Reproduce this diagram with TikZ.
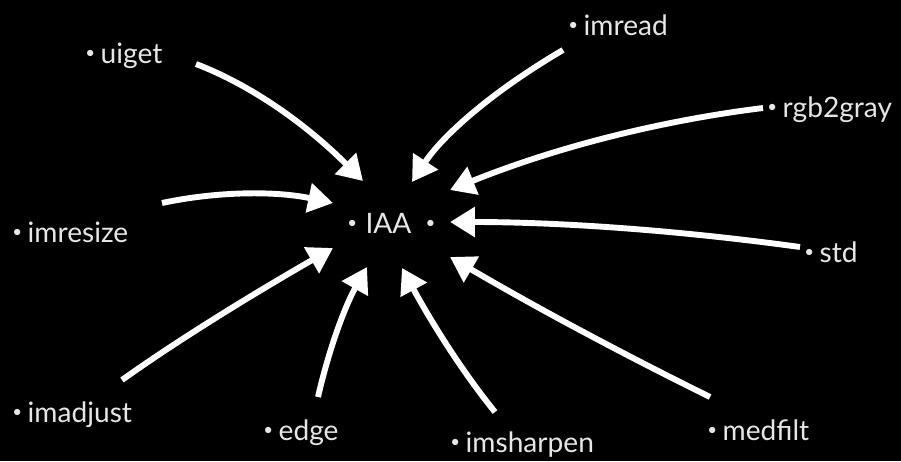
\documentclass[tikz,border=0pt]{standalone}
\usepackage{fontspec}
\setmainfont{Lato}
\usepackage{tikz}
\usetikzlibrary{arrows.meta}
\usepackage{xcolor}
\definecolor{labelGray}{HTML}{E6E6E6}
\newcommand{\dotMark}{\raisebox{0.32ex}{\fontsize{12}{12}\selectfont •}}

\begin{document}
\begin{tikzpicture}[
    x=0.025cm, y=-0.025cm,
    labelStyle/.style={anchor=base west, inner sep=0pt, text=labelGray, font=\fontsize{20}{24}\selectfont},
    arrowStyle/.style={-{Triangle[length=0.62cm, width=0.72cm]}, line width=4.2pt, draw=white}
]
    \fill[black] (0,0) rectangle (901,461);
    \useasboundingbox (0,0) rectangle (901,461);

    % centre
    \node[labelStyle] (iaa) at (347,233) {\dotMark\hspace{6pt}IAA\hspace{10pt}\dotMark};

    % labels round the centre
    \node[labelStyle] (uiget) at (85,63) {\dotMark\hspace{4pt}uiget};
    \node[labelStyle] (imread) at (568,35) {\dotMark\hspace{4pt}imread};
    \node[labelStyle] (rgbgray) at (767,117) {\dotMark\hspace{4pt}rgb2gray};
    \node[labelStyle] (imresize) at (12,242) {\dotMark\hspace{4pt}imresize};
    \node[labelStyle] (std) at (804,262) {\dotMark\hspace{4pt}std};
    \node[labelStyle] (imadjust) at (12,422) {\dotMark\hspace{4pt}imadjust};
    \node[labelStyle] (edge) at (263,440) {\dotMark\hspace{4pt}edge};
    \node[labelStyle] (imsharpen) at (450,452) {\dotMark\hspace{4pt}imsharpen};
    \node[labelStyle] (medfilt) at (707,440) {\dotMark\hspace{4pt}medfilt};

    % arrow ends
    \coordinate (uigetStart) at (196,64);       \coordinate (uigetEnd) at (363,181);
    \coordinate (imreadStart) at (563,50);      \coordinate (imreadEnd) at (412,182);
    \coordinate (rgbgrayStart) at (763,108);    \coordinate (rgbgrayEnd) at (450,190);
    \coordinate (imresizeStart) at (162,203);   \coordinate (imresizeEnd) at (333,203);
    \coordinate (stdStart) at (800,247);        \coordinate (stdEnd) at (450,222);
    \coordinate (imadjustStart) at (122,380);   \coordinate (imadjustEnd) at (333,248);
    \coordinate (edgeStart) at (318,397);       \coordinate (edgeEnd) at (367,267);
    \coordinate (imsharpenStart) at (495,412);  \coordinate (imsharpenEnd) at (402,268);
    \coordinate (medfiltStart) at (710,397);    \coordinate (medfiltEnd) at (450,257);

    \draw[arrowStyle] (uigetStart) .. controls +(55,21) and +(-57,-57) .. (uigetEnd);
    \draw[arrowStyle] (imreadStart) .. controls +(-70,41) and +(31,-47) .. (imreadEnd);
    \draw[arrowStyle] (rgbgrayStart) .. controls +(-105,13) and +(104,-42) .. (rgbgrayEnd);
    \draw[arrowStyle] (imresizeStart) .. controls +(57,-12) and +(-57,-12) .. (imresizeEnd);
    \draw[arrowStyle] (stdStart) .. controls +(-124,-17) and +(109,0) .. (stdEnd);
    \draw[arrowStyle] (imadjustStart) .. controls +(49,-35) and +(-92,53) .. (imadjustEnd);
    \draw[arrowStyle] (edgeStart) .. controls +(11,-48) and +(-22,39) .. (edgeEnd);
    \draw[arrowStyle] (imsharpenStart) .. controls +(-30,-37) and +(32,59) .. (imsharpenEnd);
    \draw[arrowStyle] (medfiltStart) .. controls +(-87,-43) and +(87,51) .. (medfiltEnd);
\end{tikzpicture}
\end{document}
